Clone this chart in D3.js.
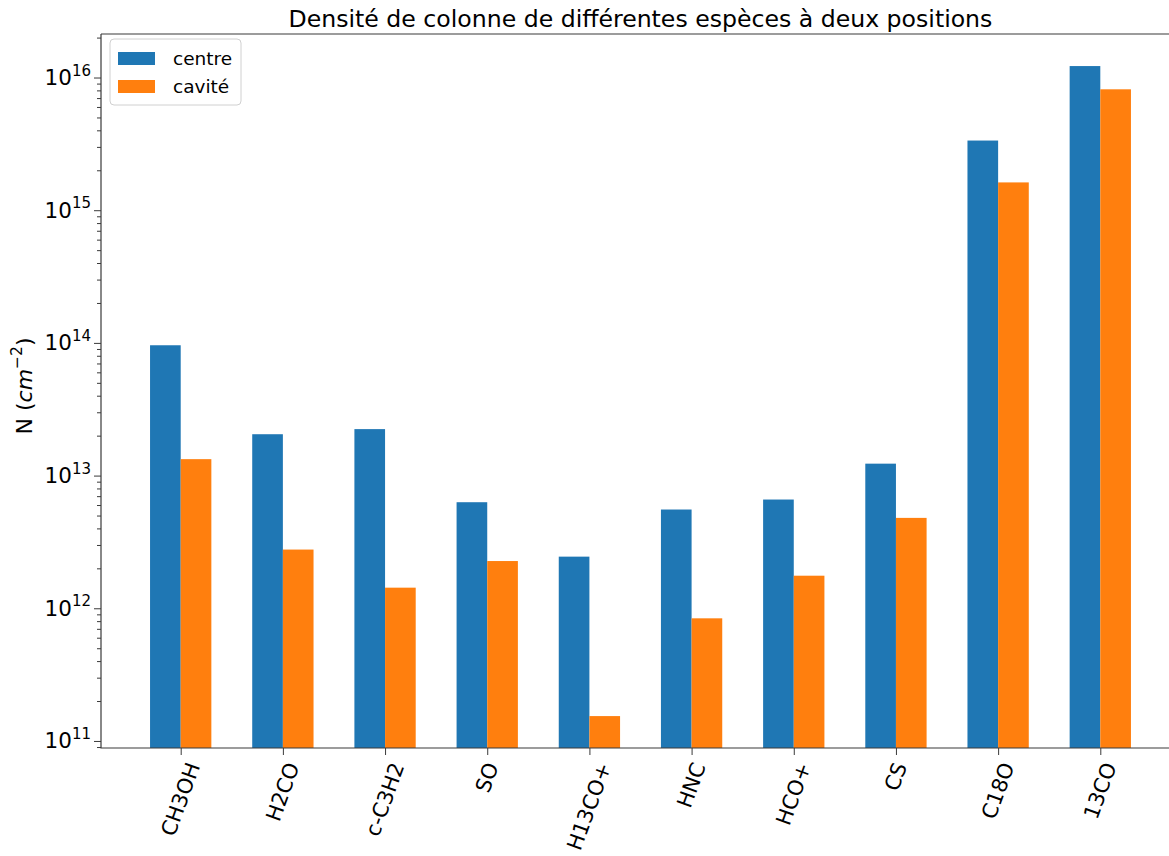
<!DOCTYPE html>
<html>
<head>
<meta charset="utf-8">
<script src="https://cdn.jsdelivr.net/npm/d3@7"></script>
<style>
  html, body { margin: 0; padding: 0; background: #fff; }
  svg { display: block; font-family: "DejaVu Sans", sans-serif; }
</style>
</head>
<body>
<svg id="chart" width="1169" height="856"></svg>
<script>
// ---- data ----
const categories = ["CH3OH", "H2CO", "c-C3H2", "SO", "H13CO+", "HNC", "HCO+", "CS", "C18O", "13CO"];
const centre = [9.6e13, 2.05e13, 2.24e13, 6.3e12, 2.45e12, 5.55e12, 6.6e12, 1.23e13, 3.35e15, 1.22e16];
const cavite = [1.33e13, 2.77e12, 1.43e12, 2.27e12, 1.54e11, 8.4e11, 1.76e12, 4.8e12, 1.62e15, 8.15e15];
const seriesNames = ["centre", "cavité"];
const seriesColors = ["#1f77b4", "#ff7f0e"];
const titleText = "Densité de colonne de différentes espèces à deux positions";

(function () {
// ---- layout ----
const svg = d3.select("#chart");
const mL = 101, mR = 1180, mT = 34, mB = 748;
const barW = 0.3;

const x = d3.scaleLinear().domain([-0.78, 9.78]).range([mL, mR]);
const y = d3.scaleLog().domain([Math.pow(10, 10.947), Math.pow(10, 16.328)]).range([mB, mT]);

const axisColor = "#3a3a3a";

// bars
const series = [centre, cavite];
series.forEach((vals, si) => {
  const off = si === 0 ? -barW / 2 : barW / 2;
  svg.append("g").selectAll("rect").data(vals).join("rect")
    .attr("x", (d, i) => x(i + off - barW / 2))
    .attr("width", (d, i) => x(i + off + barW / 2) - x(i + off - barW / 2))
    .attr("y", d => y(d))
    .attr("height", d => mB - y(d))
    .attr("fill", seriesColors[si]);
});

// y axis ticks
const allTicks = y.ticks();
const isMajor = t => Math.abs(Math.log10(t) - Math.round(Math.log10(t))) < 1e-9;
const majors = allTicks.filter(isMajor);
const minors = allTicks.filter(t => !isMajor(t));

const gyMaj = svg.append("g").attr("transform", `translate(${mL},0)`)
  .call(d3.axisLeft(y).tickValues(majors).tickSize(7).tickFormat(""));
const gyMin = svg.append("g").attr("transform", `translate(${mL},0)`)
  .call(d3.axisLeft(y).tickValues(minors).tickSize(4).tickFormat(""));
[gyMaj, gyMin].forEach(g => {
  g.select(".domain").remove();
  g.selectAll("line").attr("stroke", axisColor).attr("stroke-width", 1);
});

// major labels with superscript
majors.forEach(t => {
  const e = Math.round(Math.log10(t));
  const txt = svg.append("text")
    .attr("x", mL - 10)
    .attr("y", y(t) + 7.5)
    .attr("text-anchor", "end")
    .attr("font-size", 21.5)
    .attr("fill", "#000");
  txt.append("tspan").text("10");
  txt.append("tspan").attr("font-size", 15).attr("dy", -9.5).text(e);
});

// x axis ticks
const gx = svg.append("g").attr("transform", `translate(0,${mB})`)
  .call(d3.axisBottom(x).tickValues(d3.range(categories.length)).tickSize(7).tickFormat(""));
gx.select(".domain").remove();
gx.selectAll("line").attr("stroke", axisColor).attr("stroke-width", 1);

// x labels rotated 70deg
const sin70 = Math.sin(70 * Math.PI / 180), cos70 = Math.cos(70 * Math.PI / 180);
const xfs = 21;
categories.forEach((c, i) => {
  const t = svg.append("text")
    .attr("text-anchor", "middle")
    .attr("dominant-baseline", "central")
    .attr("font-size", xfs)
    .attr("fill", "#000")
    .text(c);
  const L = t.node().getComputedTextLength();
  const H = L * sin70 + xfs * 1.0 * cos70;
  const cx = x(i);
  const cy = mB + 12 + H / 2;
  t.attr("transform", `translate(${cx},${cy}) rotate(-70)`);
});

// spines
svg.append("path")
  .attr("d", `M${mL},${mT}H${mR}M${mL},${mT}V${mB}H${mR}`)
  .attr("fill", "none").attr("stroke", axisColor).attr("stroke-width", 1.2);

// title
svg.append("text")
  .attr("x", (mL + mR) / 2)
  .attr("y", 27)
  .attr("text-anchor", "middle")
  .attr("font-size", 23.6)
  .attr("fill", "#000")
  .text(titleText);

// y label
const yl = svg.append("text")
  .attr("transform", `translate(32,386) rotate(-90)`)
  .attr("text-anchor", "middle")
  .attr("font-size", 22)
  .attr("fill", "#000");
yl.append("tspan").text("N (");
yl.append("tspan").attr("font-style", "italic").text("cm");
yl.append("tspan").attr("font-size", 15.5).attr("dy", -10).text("−2");
yl.append("tspan").attr("dy", 10).text(")");

// legend
const lg = svg.append("g");
lg.append("rect").attr("x", 110).attr("y", 39).attr("width", 131).attr("height", 66)
  .attr("rx", 4).attr("fill", "#fff").attr("fill-opacity", 0.8)
  .attr("stroke", "#d0d0d0").attr("stroke-width", 1);
seriesNames.forEach((n, i) => {
  lg.append("rect").attr("x", 118).attr("y", 52 + i * 28).attr("width", 37).attr("height", 13)
    .attr("fill", seriesColors[i]);
  lg.append("text").attr("x", 173).attr("y", 65 + i * 28)
    .attr("font-size", 18.5).attr("fill", "#000").text(n);
});
})();
</script>
</body>
</html>
